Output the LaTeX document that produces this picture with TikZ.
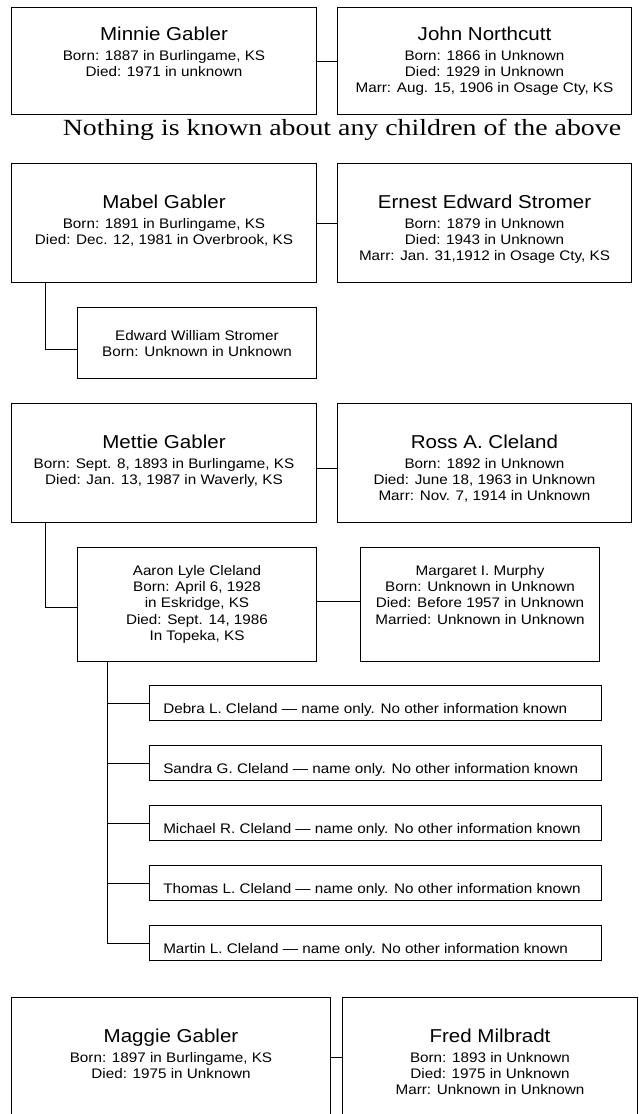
\documentclass[tikz,border=0pt]{standalone}
\usepackage{fontspec}
\newfontfamily\boxfamily{Liberation Sans}[FakeStretch=1.1]
\newfontfamily\notefamily{Liberation Serif}[FakeStretch=1.2]
\newcommand\namesty{\boxfamily\fontsize{14}{16}\selectfont}
\newcommand\infosty{\boxfamily\fontsize{10.4}{12.2}\selectfont}
\newcommand\notesty{\notefamily\fontsize{17.4}{20}\selectfont}
\usetikzlibrary{positioning}
\tikzset{
  basic/.style   = {draw, rectangle, line width=0.75pt, inner sep=0pt, anchor=north west},
  gabler/.style  = {basic, minimum width=228.75pt, minimum height=89.25pt},
  spouse/.style  = {basic, minimum width=220.5pt, minimum height=89.25pt},
  kidbox/.style  = {basic, minimum width=179.25pt, minimum height=85.5pt},
  gkidbox/.style = {basic, minimum width=339pt, minimum height=26.25pt},
  info/.style    = {font=\infosty, align=center, inner sep=0pt},
  gkidtext/.style = {font=\infosty, inner sep=0pt, anchor=base west},
  note/.style    = {font=\notesty, inner sep=0pt, anchor=base},
  link/.style    = {line width=0.75pt}
}

\begin{document}
\begin{tikzpicture}[x=0.75pt, y=-0.75pt]
\useasboundingbox (0,0) rectangle (639,1114);

% Minnie and husband, no children
\node[gabler, minimum height=80.25pt] (minnie) at (11,7) {};
\node[spouse, minimum height=80.25pt] (john) at (337,7) {};
\node[info, below=14.5pt of minnie.north] (minnie-t)
  {{\namesty Minnie Gabler}\\[3pt]Born: 1887 in Burlingame, KS\\Died: 1971 in unknown};
\node[info, below=14.5pt of john.north] (john-t)
  {{\namesty John Northcutt}\\[3pt]Born: 1866 in Unknown\\Died: 1929 in Unknown\\Marr: Aug. 15, 1906 in Osage Cty, KS};
\draw[link] (minnie.east) -- (john.west);
\node[note] (nokids) at (342,135) {Nothing is known about any children of the above};

% Mabel, husband and son
\node[gabler] (mabel) at (11,163) {};
\node[spouse] (ernest) at (337,163) {};
\node[info, below=23.5pt of mabel.north] (mabel-t)
  {{\namesty Mabel Gabler}\\[3pt]Born: 1891 in Burlingame, KS\\Died: Dec. 12, 1981 in Overbrook, KS};
\node[info, below=23.5pt of ernest.north] (ernest-t)
  {{\namesty Ernest Edward Stromer}\\[3pt]Born: 1879 in Unknown\\Died: 1943 in Unknown\\Marr: Jan. 31,1912 in Osage Cty, KS};
\draw[link] (mabel.east) -- (ernest.west);
\node[kidbox, minimum height=53.25pt] (edward) at (77,307) {};
\node[info, below=17.25pt of edward.north] (edward-t)
  {Edward William Stromer\\Born: Unknown in Unknown};
\draw[link] ([xshift=25.5pt]mabel.south west) |- ([yshift=-4.5pt]edward.west);

% Mettie, husband, son and grandchildren
\node[gabler] (mettie) at (11,403) {};
\node[spouse] (ross) at (337,403) {};
\node[info, below=23.5pt of mettie.north] (mettie-t)
  {{\namesty Mettie Gabler}\\[3pt]Born: Sept. 8, 1893 in Burlingame, KS\\Died: Jan. 13, 1987 in Waverly, KS};
\node[info, below=23.5pt of ross.north] (ross-t)
  {{\namesty Ross A. Cleland}\\[3pt]Born: 1892 in Unknown\\Died: June 18, 1963 in Unknown\\Marr: Nov. 7, 1914 in Unknown};
\draw[link] ([yshift=-4pt]mettie.east) -- ([yshift=-4pt]ross.west);
\node[kidbox] (aaron) at (77,547) {};
\node[kidbox] (margaret) at (360,547) {};
\node[info, below=13.5pt of aaron.north] (aaron-t)
  {Aaron Lyle Cleland\\Born: April 6, 1928\\in Eskridge, KS\\Died: Sept. 14, 1986\\In Topeka, KS};
\node[info, below=13.5pt of margaret.north] (margaret-t)
  {Margaret I. Murphy\\Born: Unknown in Unknown\\Died: Before 1957 in Unknown\\Married: Unknown in Unknown};
\draw[link] ([xshift=25.5pt]mettie.south west) |- ([yshift=-2pt]aaron.west);
\draw[link] ([yshift=2pt]aaron.east) -- ([yshift=2pt]margaret.west);
\foreach \kid/\who [count=\i from 0] in {debra/Debra L. Cleland, sandra/Sandra G. Cleland,
    michael/Michael R. Cleland, thomas/Thomas L. Cleland, martin/Martin L. Cleland} {
  \node[gkidbox] (\kid) at (149,{685+60*\i}) {};
  \node[gkidtext] (\kid-t) at ([shift={(10.5pt,5.5pt)}]\kid.south west)
    {\who{} — name only. No other information known};
  \draw[link] ([xshift=22.5pt]aaron.south west) |- (\kid.west);
}

% Maggie and husband
\node[gabler, minimum width=239.25pt, minimum height=90pt] (maggie) at (11,997) {};
\node[spouse, minimum width=221.25pt, minimum height=90pt] (fred) at (342,997) {};
\node[info, below=23.5pt of maggie.north] (maggie-t)
  {{\namesty Maggie Gabler}\\[3pt]Born: 1897 in Burlingame, KS\\Died: 1975 in Unknown};
\node[info, below=23.5pt of fred.north] (fred-t)
  {{\namesty Fred Milbradt}\\[3pt]Born: 1893 in Unknown\\Died: 1975 in Unknown\\Marr: Unknown in Unknown};
\draw[link] (maggie.east) -- (fred.west);

\end{tikzpicture}
\end{document}
